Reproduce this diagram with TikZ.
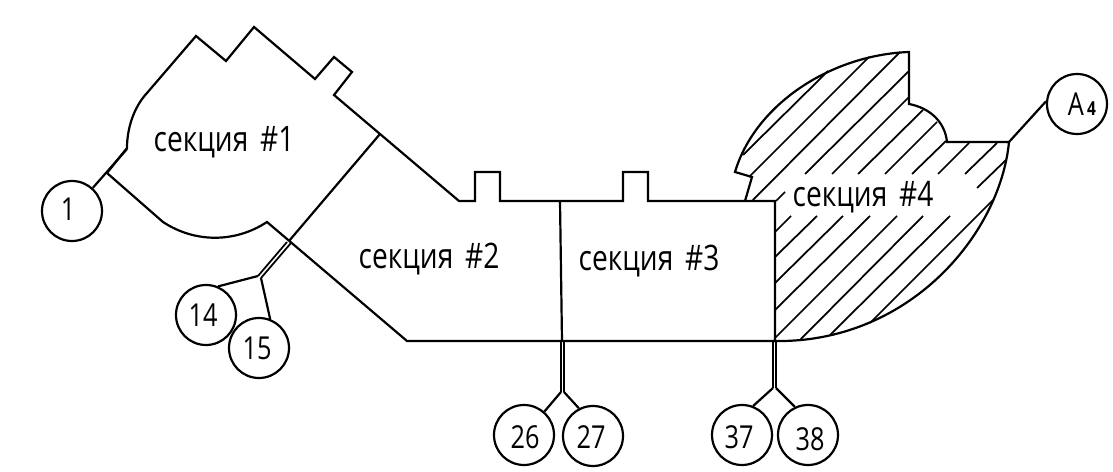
\documentclass[tikz,border=0pt]{standalone}
\usepackage{fontspec}
\newfontfamily\cadfont[FakeStretch=0.8]{Open Sans}
\tikzset{
	wall/.style={line width=1.25pt, line join=miter},
	hatchline/.style={line width=1pt},
	tagcircle/.style={draw, circle, line width=1.25pt, minimum size=1.2cm, inner sep=0pt},
	tagtext/.style={font=\cadfont\fontsize{18}{18}\selectfont, inner sep=0pt},
	seclabel/.style={font=\cadfont\fontsize{20}{20}\selectfont, inner sep=0pt}
}
\begin{document}
\begin{tikzpicture}[x=0.02cm, y=-0.02cm]
	\useasboundingbox (0,0) rectangle (1113,472);
	% outer walls
	\draw[wall] (107,173) -- (127,148) .. controls (127,128) and (134,107) .. (147,93)
		-- (196,36) -- (226,61) -- (254,27) -- (315,79) -- (334,57) -- (352,72) -- (334,95)
		-- (380,134) -- (459,201) -- (475,201) -- (475,172) -- (500,172) -- (500,201)
		-- (623,201) -- (623,172) -- (648,172) -- (648,201) -- (775,201) -- (775,341)
		-- (407,341) -- (267,222) .. controls (235,243) and (195,243) .. (163,222) -- cycle;
	% section 4
	\draw[wall] (745,201) -- (752,177) -- (735,172) .. controls (755,105) and (830,55) .. (909,52)
		-- (909,104) .. controls (930,108) and (945,122) .. (947,142) -- (1009,142)
		.. controls (1000,235) and (908,344) .. (773,341);
	% partitions
	\coordinate (p12a) at (380,134);
	\coordinate (p12b) at (289,241);
	\coordinate (j14) at (258,276);
	\coordinate (j15) at (261,278);
	\coordinate (j26) at (561,392);
	\coordinate (j27) at (564,392);
	\coordinate (j37) at (773,388);
	\coordinate (j38) at (776,388);
	\coordinate (jA) at (1009,142);
	\coordinate (j1) at (127,149);
	\draw[wall] (p12a) -- (p12b);
	\draw[wall] (560,201) -- (562,341);
	\draw[hatchline] (j14) -- (287,242);
	\draw[hatchline] (j15) -- (291,243);
	\draw[hatchline] (j26) -- (561,341);
	\draw[hatchline] (j27) -- (564,341);
	\draw[hatchline] (j37) -- (773,341);
	\draw[hatchline] (j38) -- (776,341);
	% tags
	\foreach \nm/\cx/\cy/\tx/\ty/\txt in {
		1/72/211/68/209/1, 14/206/315/203/315/14, 15/259/348/257/348/15,
		26/524/435/525/437/26, 27/593/436/591/437/27, 37/742/435/739/437/37,
		38/808/435/810/439/38, A/1077/104/1082/104/{A{\fontsize{11}{11}\selectfont\bfseries\,4}}} {
		\node[tagcircle] (n\nm) at (\cx,\cy) {};
		\node[tagtext] (t\nm) at (\tx,\ty) {\txt};
	}
	\draw[wall] (j1) -- (n1.48);
	\draw[wall] (j14) -- (n14.67);
	\draw[wall] (j15) -- (n15.69);
	\draw[wall] (j26) -- (n26.49);
	\draw[wall] (j27) -- (n27.117);
	\draw[wall] (j37) -- (n37.69);
	\draw[wall] (j38) -- (n38.115);
	\draw[wall] (jA) -- (nA.175);
	% hatching
	\foreach \xa/\ya/\xb/\yb in {
		743/155/828/71, 749/177/869/57, 752/201/900/52, 805/174/909/71, 832/174/909/97,
		858/174/923/110, 885/174/937/122, 912/174/946/141, 938/174/969/143, 965/174/997/143,
		977/188/1006/160, 775/232/791/216, 775/257/817/216, 775/283/843/216, 775/310/870/216,
		775/338/897/216, 800/340/923/216, 830/335/950/216, 870/323/993/200, 776/201/785/192}
		\draw[hatchline] (\xa,\ya) -- (\xb,\yb);
	% labels
	\node[seclabel] (s1) at (224,142) {секция\,\,\#1};
	\node[seclabel] (s2) at (429,259) {секция\,\,\#2};
	\node[seclabel] (s3) at (649,261) {секция\,\,\#3};
	\node[seclabel] (s4) at (863,197) {секция\,\,\#4};
\end{tikzpicture}
\end{document}
